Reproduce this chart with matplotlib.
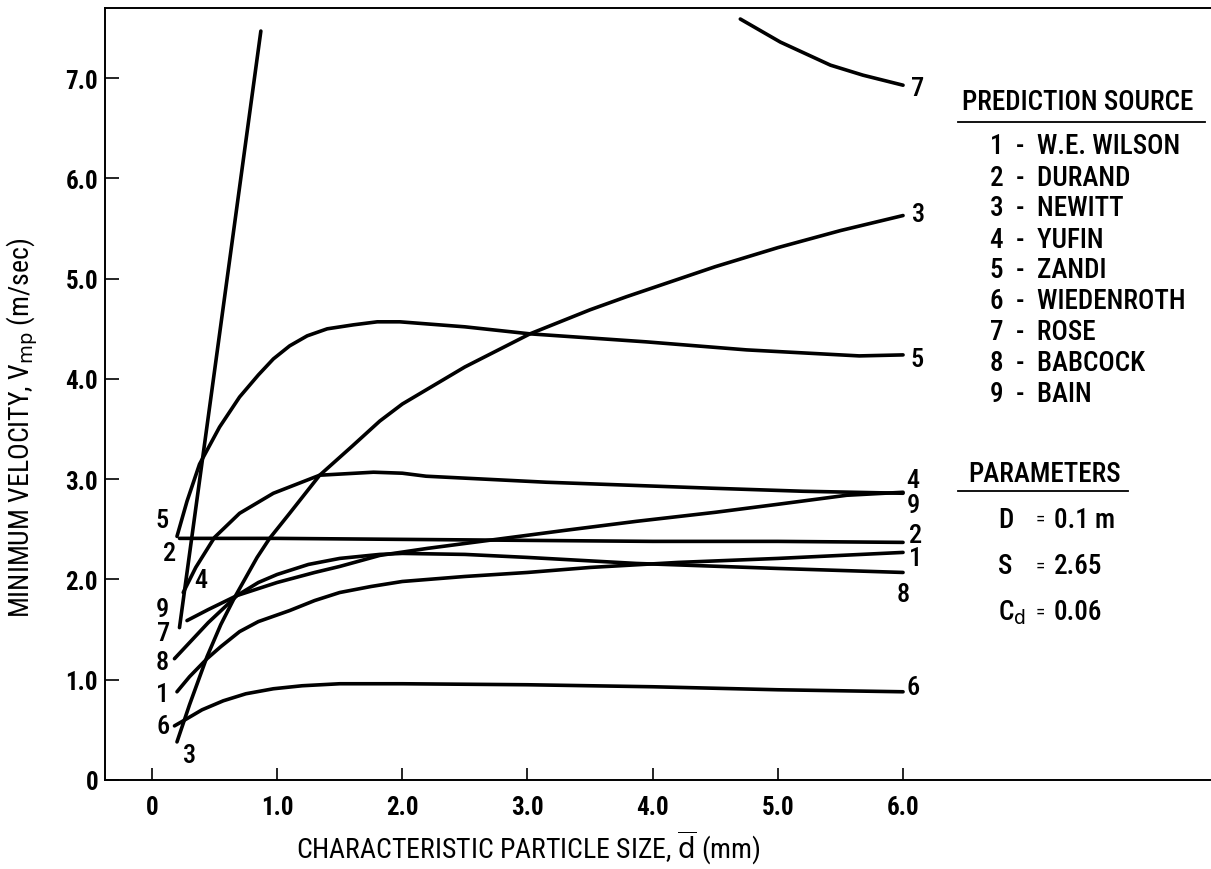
import matplotlib
matplotlib.use("Agg")
import matplotlib.pyplot as plt
from matplotlib import font_manager as fm
from matplotlib.lines import Line2D

# ---------------- data ----------------
x1 = [0.20, 0.30, 0.44, 0.55, 0.70, 0.85, 1.10, 1.30, 1.50, 1.75, 2.0, 2.5, 3.0, 3.5, 4.2, 5.0, 5.5, 6.0]
y1 = [0.88, 1.03, 1.21, 1.33, 1.48, 1.58, 1.69, 1.79, 1.87, 1.93, 1.98, 2.03, 2.07, 2.12, 2.17, 2.21, 2.24, 2.27]

x2 = [0.22, 1.0, 2.0, 3.0, 4.0, 5.0, 6.0]
y2 = [2.41, 2.41, 2.40, 2.39, 2.38, 2.38, 2.37]

x3 = [0.20, 0.30, 0.44, 0.55, 0.66, 0.84, 0.94, 1.10, 1.34, 1.60, 1.82, 2.0, 2.5, 3.02, 3.5, 3.79, 4.5, 5.0, 5.5, 6.0]
y3 = [0.38, 0.75, 1.23, 1.55, 1.82, 2.22, 2.41, 2.66, 3.04, 3.33, 3.58, 3.75, 4.12, 4.45, 4.69, 4.82, 5.12, 5.31, 5.48, 5.63]

x4 = [0.25, 0.35, 0.50, 0.70, 0.97, 1.34, 1.77, 2.0, 2.19, 3.15, 4.48, 5.2, 6.0]
y4 = [1.87, 2.12, 2.42, 2.66, 2.86, 3.04, 3.07, 3.06, 3.03, 2.97, 2.91, 2.88, 2.86]

x5 = [0.20, 0.28, 0.38, 0.54, 0.70, 0.85, 0.97, 1.10, 1.24, 1.40, 1.61, 1.80, 1.98, 2.5, 3.02, 3.95, 4.75, 5.65, 6.0]
y5 = [2.43, 2.78, 3.15, 3.52, 3.82, 4.04, 4.20, 4.33, 4.43, 4.50, 4.54, 4.57, 4.57, 4.52, 4.45, 4.37, 4.29, 4.23, 4.24]

x6 = [0.18, 0.25, 0.40, 0.57, 0.75, 0.97, 1.2, 1.5, 2.0, 3.0, 4.0, 5.0, 6.0]
y6 = [0.54, 0.59, 0.70, 0.79, 0.86, 0.91, 0.94, 0.96, 0.96, 0.95, 0.93, 0.90, 0.88]

x7a = [0.22, 0.50, 0.87]
y7a = [1.52, 4.08, 7.47]
x7b = [4.70, 5.02, 5.42, 5.68, 6.0]
y7b = [7.59, 7.36, 7.13, 7.03, 6.93]

x8 = [0.18, 0.30, 0.45, 0.68, 0.85, 1.0, 1.25, 1.5, 1.82, 2.0, 2.5, 3.0, 3.87, 5.0, 6.0]
y8 = [1.21, 1.37, 1.57, 1.84, 1.97, 2.05, 2.15, 2.21, 2.25, 2.26, 2.25, 2.22, 2.16, 2.11, 2.07]

x9 = [0.28, 0.45, 0.68, 1.0, 1.3, 1.5, 1.82, 2.2, 2.75, 3.3, 3.87, 4.5, 5.0, 5.55, 6.0]
y9 = [1.59, 1.70, 1.84, 1.97, 2.07, 2.13, 2.24, 2.31, 2.40, 2.49, 2.58, 2.67, 2.75, 2.84, 2.87]

xticks = [0, 1, 2, 3, 4, 5, 6]
xticklabels = ["0", "1.0", "2.0", "3.0", "4.0", "5.0", "6.0"]
yticks = [0, 1, 2, 3, 4, 5, 6, 7]
yticklabels = ["0", "1.0", "2.0", "3.0", "4.0", "5.0", "6.0", "7.0"]

sources = ["W.E. WILSON", "DURAND", "NEWITT", "YUFIN", "ZANDI",
           "WIEDENROTH", "ROSE", "BABCOCK", "BAIN"]

# curve number labels (text, x, y) in data units
left_labels = [("5", 0.077, 2.59), ("2", 0.144, 2.26), ("4", 0.39, 1.99),
               ("9", 0.085, 1.71), ("7", 0.09, 1.47), ("8", 0.085, 1.18),
               ("1", 0.085, 0.86), ("6", 0.09, 0.54), ("3", 0.30, 0.245)]
right_labels = [("7", 6.12, 6.90), ("3", 6.12, 5.65), ("5", 6.11, 4.20),
                ("4", 6.08, 2.99), ("9", 6.08, 2.74), ("2", 6.10, 2.44),
                ("1", 6.10, 2.21), ("8", 6.00, 1.86), ("6", 6.08, 0.93)]

# ---------------- fonts ----------------
names = {f.name for f in fm.fontManager.ttflist}
fam = "DejaVu Sans"
for cand in ["Liberation Sans Narrow", "Roboto Condensed", "Open Sans Condensed", "Noto Sans"]:
    if cand in names:
        fam = cand
        break
plt.rcParams["font.family"] = [fam, "DejaVu Sans"]
plt.rcParams["mathtext.default"] = "regular"

W, H = 1211, 870
fig = plt.figure(figsize=(W / 100, H / 100), dpi=100)
ax = fig.add_axes([105 / W, 1 - 781 / H, (W - 105) / W, (781 - 9) / H])
ax.set_xlim(-0.375, 8.46)
ax.set_ylim(0, 7.70)

lw = 2.6
for xs, ys in [(x1, y1), (x2, y2), (x3, y3), (x4, y4), (x5, y5), (x6, y6),
               (x7a, y7a), (x7b, y7b), (x8, y8), (x9, y9)]:
    ax.plot(xs, ys, color="black", lw=lw, solid_capstyle="round", solid_joinstyle="round")

for t, x, y in left_labels + right_labels:
    ax.text(x, y, t, fontsize=19, ha="center", va="center", color="black", fontweight="medium")

ax.spines["right"].set_visible(False)
for s in ["left", "bottom", "top"]:
    ax.spines[s].set_linewidth(1.4)

ax.set_xticks(xticks)
ax.set_xticklabels(xticklabels, fontsize=18, fontweight="bold")
ax.set_yticks(yticks)
ax.set_yticklabels(yticklabels, fontsize=18, fontweight="bold")
ax.tick_params(axis="x", direction="in", length=9, width=1.2, pad=11)
ax.tick_params(axis="y", direction="in", length=10, width=1.2, pad=5)

# axis labels
fig.text(528 / W, 1 - 848 / H, r"CHARACTERISTIC PARTICLE SIZE, $\overline{\mathrm{d}}$ (mm)",
         fontsize=20, ha="center", va="center")
fig.text(22 / W, 1 - 428 / H, r"MINIMUM VELOCITY, V$_{\mathrm{mp}}$ (m/sec)",
         fontsize=20, ha="center", va="center", rotation=90)

# legend block
fs = 19.5
fig.text(962 / W, 1 - 103 / H, "PREDICTION SOURCE", fontsize=fs, ha="left", va="center",
         fontweight="medium")
fig.add_artist(Line2D([958 / W, 1205 / W], [1 - 123 / H, 1 - 123 / H], color="black", lw=1.3))
for i, name in enumerate(sources):
    fig.text(990 / W, 1 - (147 + 31 * i) / H, f"{i + 1}  -  {name}", fontsize=fs,
             ha="left", va="center", fontweight="medium")

fig.text(968 / W, 1 - 475 / H, "PARAMETERS", fontsize=fs, ha="left", va="center",
         fontweight="medium")
fig.add_artist(Line2D([958 / W, 1128 / W], [1 - 492 / H, 1 - 492 / H], color="black", lw=1.3))
params = [("D", "=", "0.1 m", 520), ("S", "=", "2.65", 567), (r"C$_{\mathrm{d}}$", "=", "0.06", 613)]
for sym, eq, val, py in params:
    fig.text(998 / W, 1 - py / H, sym, fontsize=fs, ha="left", va="center", fontweight="medium")
    fig.text(1040 / W, 1 - py / H, eq, fontsize=14, ha="center", va="center")
    fig.text(1054 / W, 1 - py / H, val, fontsize=fs, ha="left", va="center", fontweight="medium")

fig.savefig("out.png", dpi=100, facecolor="white")
